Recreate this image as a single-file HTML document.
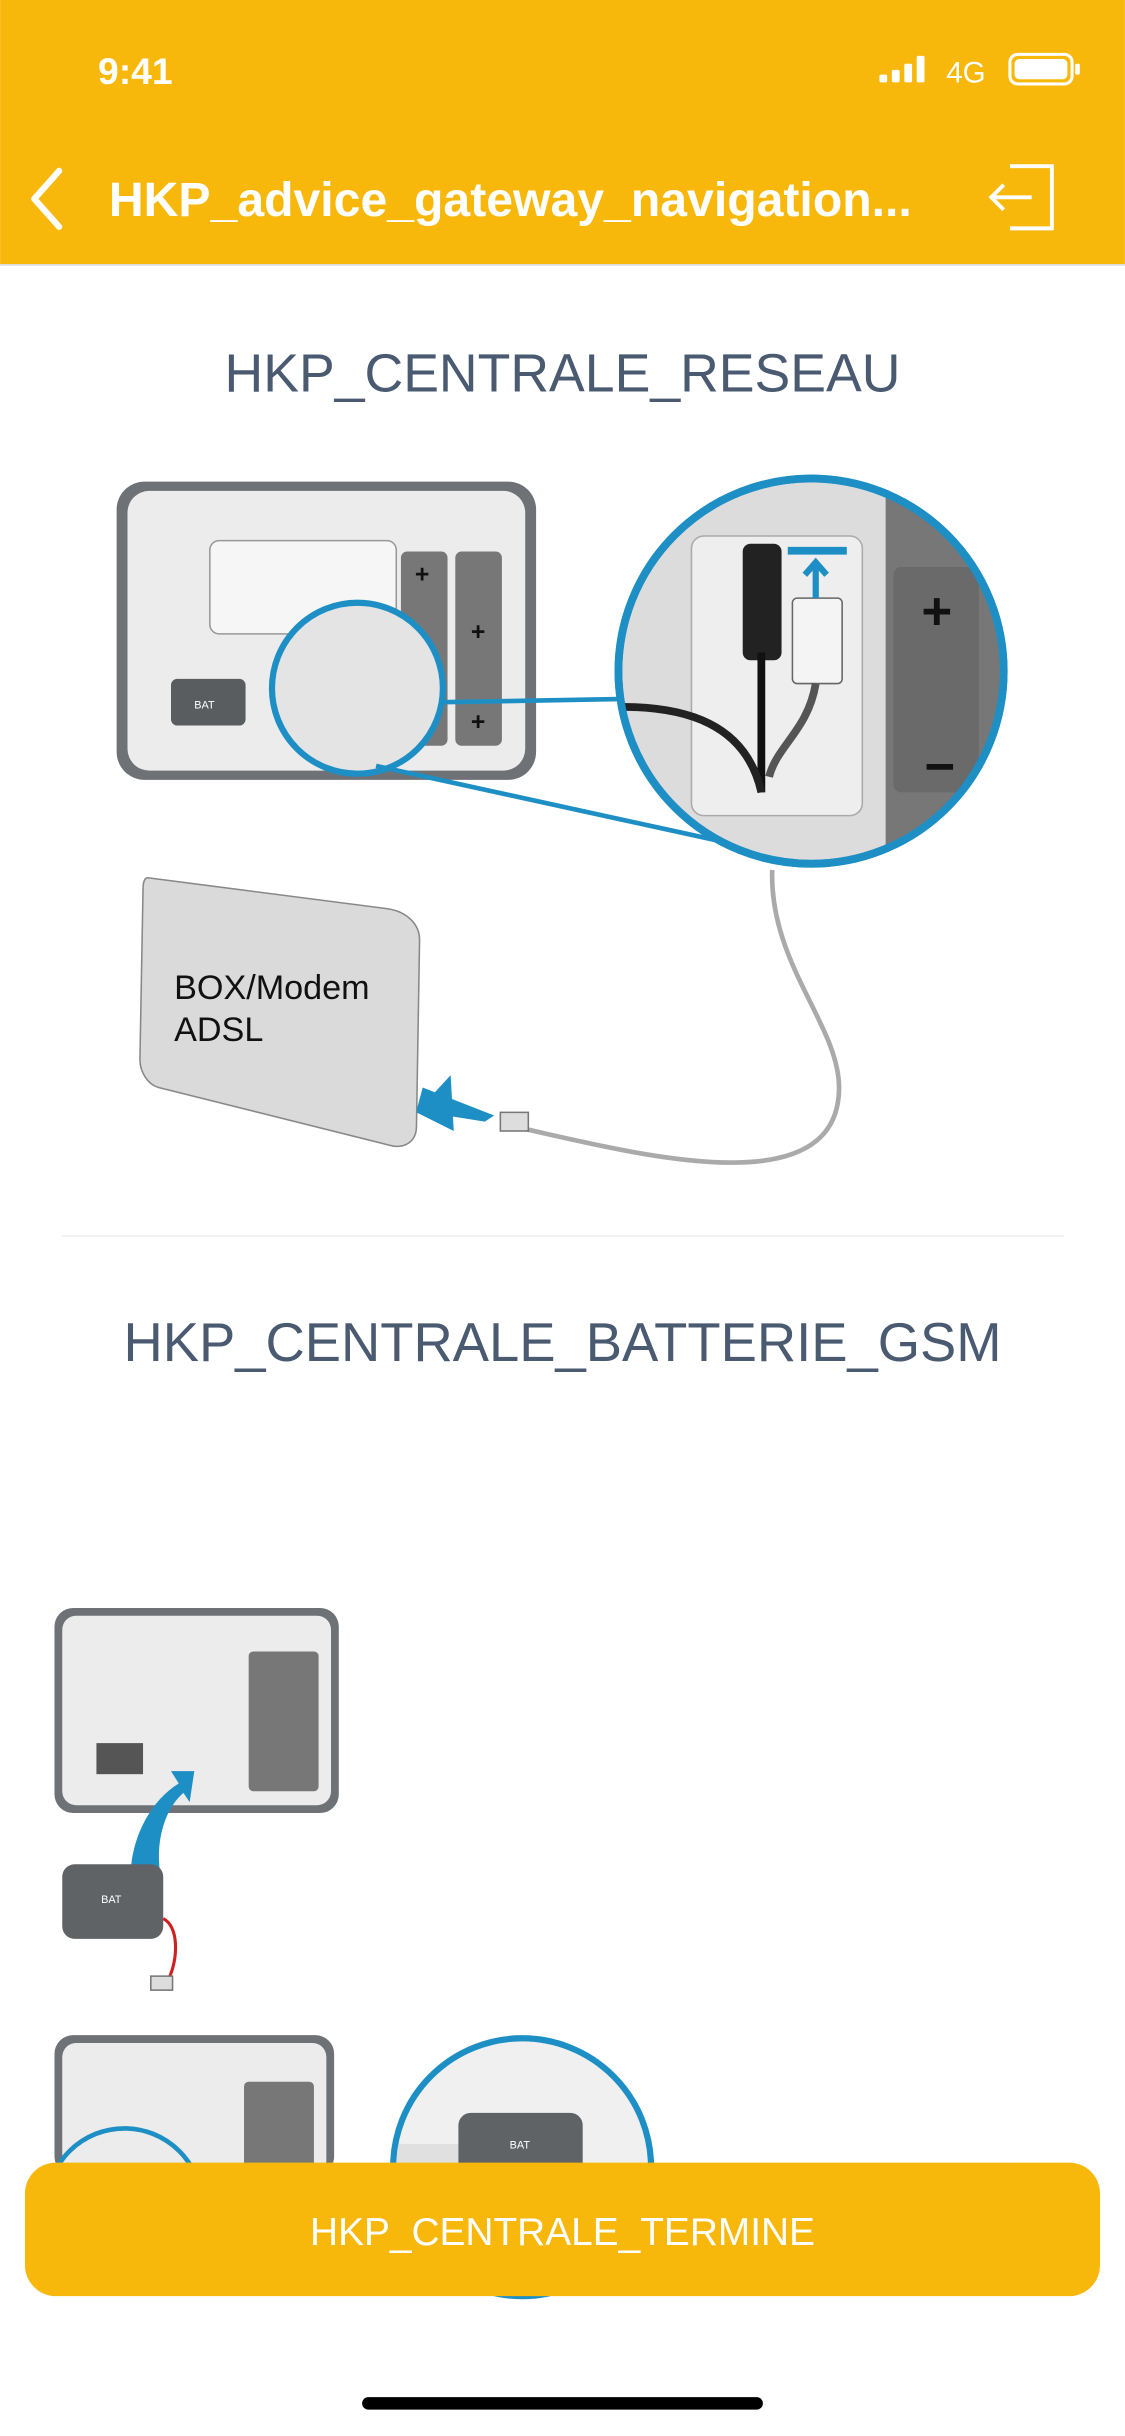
<!DOCTYPE html>
<html><head><meta charset="utf-8"><style>
html,body{margin:0;padding:0;background:#fff;}
svg{display:block;}
text{font-family:"Liberation Sans",sans-serif;}
</style></head><body>
<svg width="1125" height="2436" viewBox="0 0 724 1568" xmlns="http://www.w3.org/2000/svg">
<defs>
<clipPath id="zc"><circle cx="522" cy="432" r="122"/></clipPath>
<clipPath id="zc2"><circle cx="336" cy="1395" r="81"/></clipPath>
</defs>
<rect width="724" height="1568" fill="#fff"/>
<!-- header -->
<rect width="724" height="170" fill="#F8B80B"/>
<rect y="170" width="724" height="1" fill="#d9d9d9"/>
<text x="63" y="54" font-size="24" font-weight="bold" fill="#fff">9:41</text>
<g fill="#fff">
<rect x="566" y="48" width="5" height="5" rx="1"/><rect x="574" y="45" width="5" height="8" rx="1"/><rect x="582" y="41" width="5" height="12" rx="1"/><rect x="590" y="36" width="5" height="17" rx="1"/>
</g>
<text x="609" y="53" font-size="19" fill="#fff">4G</text>
<rect x="650" y="35" width="40" height="19" rx="5" fill="none" stroke="#fff" stroke-width="2"/>
<rect x="653" y="38" width="34" height="13" rx="3" fill="#fff"/>
<rect x="692" y="41" width="3" height="7" rx="1" fill="#fff"/>
<polyline points="38,110 22,128 38,146" fill="none" stroke="#fff" stroke-width="4" stroke-linecap="round" stroke-linejoin="round"/>
<text x="70" y="139" font-size="31" font-weight="bold" fill="#fff">HKP_advice_gateway_navigation...</text>
<g fill="none" stroke="#fff" stroke-width="2.5">
<polyline points="650,107 677,107 677,147 650,147"/>
<line x1="638" y1="127" x2="664" y2="127"/>
<polyline points="646,119 638,127 646,135"/>
</g>
<!-- section 1 -->
<text x="362" y="252" font-size="34.5" fill="#4a5a70" text-anchor="middle">HKP_CENTRALE_RESEAU</text>
<!-- device -->
<rect x="75" y="310" width="270" height="192" rx="18" fill="#6e7175"/>
<rect x="82" y="316" width="256" height="180" rx="14" fill="#ececec"/>
<rect x="135" y="348" width="120" height="60" rx="6" fill="#f6f6f6" stroke="#999"/>
<rect x="258" y="355" width="30" height="125" rx="4" fill="#777"/>
<rect x="293" y="355" width="30" height="125" rx="4" fill="#777"/>
<text x="267" y="375" font-size="16" font-weight="bold" fill="#111">+</text>
<text x="303" y="412" font-size="16" font-weight="bold" fill="#111">+</text>
<text x="267" y="432" font-size="16" font-weight="bold" fill="#111">+</text>
<text x="303" y="470" font-size="16" font-weight="bold" fill="#111">+</text>
<rect x="110" y="437" width="48" height="30" rx="4" fill="#5a5d60"/>
<text x="125" y="456" font-size="7" fill="#fff">BAT</text>
<circle cx="230" cy="443" r="55" fill="#e4e4e4" stroke="#1e8fc5" stroke-width="4"/>
<line x1="284" y1="452" x2="398" y2="450" stroke="#1e8fc5" stroke-width="3"/>
<line x1="242" y1="493" x2="480" y2="545" stroke="#1e8fc5" stroke-width="3"/>
<!-- zoom circle -->
<circle cx="522" cy="432" r="124" fill="#dcdcdc" stroke="#1e8fc5" stroke-width="5"/>
<g clip-path="url(#zc)">
<rect x="570" y="300" width="100" height="260" fill="#777"/>
<rect x="575" y="365" width="55" height="145" rx="5" fill="#6a6a6a"/>
<text x="593" y="405" font-size="34" font-weight="bold" fill="#111">+</text>
<text x="595" y="505" font-size="34" font-weight="bold" fill="#111">−</text>
<rect x="445" y="345" width="110" height="180" rx="8" fill="#eee" stroke="#aaa"/>
<rect x="478" y="350" width="25" height="75" rx="5" fill="#222"/>
<line x1="490" y1="420" x2="490" y2="510" stroke="#111" stroke-width="5"/>
<rect x="510" y="385" width="32" height="55" rx="3" fill="#f4f4f4" stroke="#666"/>
<rect x="507" y="352" width="38" height="5" fill="#1e8fc5"/>
<path d="M525 385 L525 362 M518 370 L525 362 L532 370" stroke="#1e8fc5" stroke-width="4" fill="none"/>
<path d="M400 455 C440 455 480 465 490 510" stroke="#222" stroke-width="5" fill="none"/>
<path d="M525 440 C520 470 500 480 495 500" stroke="#555" stroke-width="5" fill="none"/>
</g>
<circle cx="522" cy="432" r="124" fill="none" stroke="#1e8fc5" stroke-width="5"/>
<!-- cable -->
<path d="M497 560 C495 620 540 660 540 700 C540 780 400 740 330 725" stroke="#aaa" stroke-width="3" fill="none"/>
<rect x="322" y="716" width="18" height="12" fill="#ddd" stroke="#777"/>
<!-- modem -->
<path d="M95 565 L250 585 C262 587 270 595 270 605 L268 725 C268 735 260 740 250 737 L102 700 C95 698 90 690 90 682 L92 572 C92 566 94 565 95 565Z" fill="#dadada" stroke="#888"/>
<text x="112" y="643" font-size="22" fill="#111">BOX/Modem</text>
<text x="112" y="670" font-size="22" fill="#111">ADSL</text>
<path d="M272 700 L318 718 L312 722 L268 715 Z M268 716 L290 692 L292 728 Z" fill="#1e8fc5"/>
<rect x="40" y="795" width="645" height="1" fill="#eee"/>
<!-- section 2 -->
<text x="362" y="876" font-size="35" fill="#4a5a70" text-anchor="middle">HKP_CENTRALE_BATTERIE_GSM</text>
<rect x="35" y="1035" width="183" height="132" rx="12" fill="#6e7175"/>
<rect x="40" y="1040" width="173" height="122" rx="9" fill="#ececec"/>
<rect x="160" y="1063" width="45" height="90" rx="3" fill="#777"/>
<rect x="62" y="1122" width="30" height="20" fill="#555"/>
<path d="M85 1220 C80 1190 95 1160 115 1148 L110 1140 L125 1140 L122 1160 L118 1154 C105 1165 98 1190 105 1215 Z" fill="#1e8fc5"/>
<rect x="40" y="1200" width="65" height="48" rx="8" fill="#606366"/>
<text x="65" y="1225" font-size="7" fill="#fff">BAT</text>
<path d="M105 1235 C115 1240 115 1260 108 1275" stroke="#c22" stroke-width="2" fill="none"/>
<rect x="97" y="1272" width="14" height="9" fill="#ddd" stroke="#777"/>
<rect x="35" y="1310" width="180" height="90" rx="12" fill="#6e7175"/>
<rect x="40" y="1315" width="170" height="85" rx="9" fill="#ececec"/>
<rect x="157" y="1340" width="45" height="60" rx="3" fill="#777"/>
<circle cx="336" cy="1395" r="83" fill="#f0f0f0" stroke="#1e8fc5" stroke-width="4"/>
<g clip-path="url(#zc2)">
<rect x="250" y="1380" width="50" height="30" fill="#e0e0e0"/>
<rect x="295" y="1360" width="80" height="50" rx="8" fill="#606366"/>
</g>
<text x="328" y="1383" font-size="7" fill="#fff">BAT</text>
<circle cx="80" cy="1420" r="50" fill="none" stroke="#1e8fc5" stroke-width="3"/>
<!-- button -->
<rect x="16" y="1392" width="692" height="86" rx="20" fill="#F8B80B"/>
<text x="362" y="1445" font-size="25" fill="#fff" text-anchor="middle">HKP_CENTRALE_TERMINE</text>
<rect x="233" y="1543" width="258" height="8" rx="4" fill="#000"/>
</svg>
</body></html>
